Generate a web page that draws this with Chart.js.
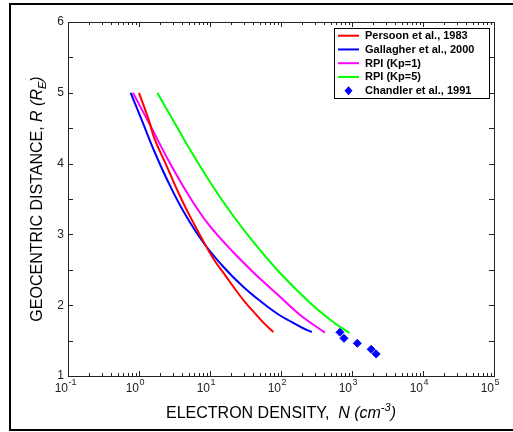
<!DOCTYPE html>
<html>
<head>
<meta charset="utf-8">
<script src="https://cdn.jsdelivr.net/npm/chart.js@4/dist/chart.umd.min.js"></script>
<style>
  body { margin: 0; background: #fff; }
  #wrap { width: 513px; height: 432px; }
</style>
</head>
<body>
<div id="wrap"><canvas id="densityChart" width="513" height="432"></canvas></div>
<script>
// Series: R in Earth radii, N in cm^-3
const persoonR = [5.0, 4.6, 4.36, 4.0, 3.7, 3.49, 3.3, 3.0, 2.66, 2.4, 2.19, 2.03, 1.885, 1.75, 1.62];
const persoonN = [1.0, 1.39, 1.64, 2.37, 3.2, 4.0, 4.95, 7.15, 11.1, 17, 24, 32, 43, 57, 78];

const gallagherR = [5.0, 4.588, 4.164, 3.74, 3.316, 2.893, 2.54, 2.257, 2.045, 1.876, 1.763, 1.678, 1.621];
const gallagherN = [0.764, 1.12, 1.66, 2.58, 4.28, 7.96, 15.5, 29.6, 53.1, 89.9, 140, 202, 272];

const rpiKp1R = [5.0, 4.545, 4.051, 3.556, 3.133, 2.737, 2.427, 2.12, 1.862, 1.612];
const rpiKp1N = [0.822, 1.43, 2.58, 4.98, 9.66, 21.8, 44.6, 96.8, 186, 415];

const rpiKp5R = [5.0, 4.588, 4.164, 3.74, 3.316, 2.893, 2.469, 2.045, 1.763, 1.607];
const rpiKp5N = [1.81, 3.12, 5.48, 10.0, 19.4, 40.7, 94, 249, 542, 925];

const chandlerR = [1.617, 1.532, 1.462, 1.377, 1.311];
const chandlerN = [676, 771, 1189, 1862, 2190];

const seriesLabels = ['Persoon et al., 1983', 'Gallagher et al., 2000', 'RPI (Kp=1)', 'RPI (Kp=5)', 'Chandler et al., 1991'];
const seriesColors = ['#ff0000', '#0000ff', '#ff00ff', '#00ff00', '#0000ff'];

// Axis ticks
const xTickValues = [0.1, 1, 10, 100, 1000, 10000, 100000];
const xTickExps = ['-1', '0', '1', '2', '3', '4', '5'];
const yTickValues = [1, 2, 3, 4, 5, 6];

const FONT = '"Liberation Sans", Arial, sans-serif';
const TICKFONT = '"Liberation Sans Narrow", "Liberation Sans", Arial, sans-serif';

function pts(ns, rs) {
    return ns.map((n, i) => ({ x: n, y: rs[i] }));
}

function lineSet(i, ns, rs) {
    return {
        label: seriesLabels[i],
        data: pts(ns, rs),
        borderColor: seriesColors[i],
        backgroundColor: seriesColors[i],
        borderWidth: 2,
        showLine: true,
        pointRadius: 0,
        tension: 0.4
    };
}

// draws a run of text pieces (different fonts / offsets) from x
function drawRuns(ctx, runs, x, y) {
    let cx = x;
    runs.forEach(r => {
        ctx.font = r.font;
        ctx.fillText(r.t, cx, y + (r.dy || 0));
        cx += ctx.measureText(r.t).width;
    });
    return cx;
}
function runsWidth(ctx, runs) {
    let w = 0;
    runs.forEach(r => { ctx.font = r.font; w += ctx.measureText(r.t).width; });
    return w;
}

const framePlugin = {
    id: 'framePlugin',
    beforeDraw(chart) {
        const ctx = chart.ctx;
        ctx.save();
        ctx.fillStyle = '#fff';
        ctx.fillRect(0, 0, chart.width, chart.height);
        ctx.restore();
    },
    afterDraw(chart) {
        const ctx = chart.ctx;
        const a = chart.chartArea;
        const xs = chart.scales.x, ys = chart.scales.y;
        ctx.save();

        // outer border
        ctx.strokeStyle = '#000';
        ctx.lineWidth = 2;
        ctx.strokeRect(10, 4, 520, 426);

        // plot box
        ctx.strokeStyle = '#222';
        ctx.lineWidth = 1;
        ctx.strokeRect(Math.round(a.left) + 0.5, Math.round(a.top) + 0.5, Math.round(a.right - a.left), Math.round(a.bottom - a.top));

        // x ticks (inward, bottom and top)
        ctx.beginPath();
        for (let d = -1; d <= 5; d++) {
            for (let k = 1; k <= 9; k++) {
                const v = k * Math.pow(10, d);
                if (v > 100000) break;
                const px = Math.round(xs.getPixelForValue(v)) + 0.5;
                const len = k === 1 ? 5 : 3;
                ctx.moveTo(px, a.bottom);
                ctx.lineTo(px, a.bottom - len);
                ctx.moveTo(px, a.top);
                ctx.lineTo(px, a.top + len);
            }
        }
        // y ticks (inward, left and right)
        for (let v = 1; v <= 6; v += 0.5) {
            const py = Math.round(ys.getPixelForValue(v)) + 0.5;
            ctx.moveTo(a.left, py);
            ctx.lineTo(a.left + 5, py);
            ctx.moveTo(a.right, py);
            ctx.lineTo(a.right - 5, py);
        }
        ctx.stroke();

        // tick labels
        ctx.fillStyle = '#222';
        ctx.textBaseline = 'middle';
        ctx.textAlign = 'right';
        ctx.font = '12px ' + TICKFONT;
        yTickValues.forEach(v => {
            ctx.fillText(String(v), a.left - 4, ys.getPixelForValue(v));
        });
        xTickValues.forEach((v, i) => {
            const px = xs.getPixelForValue(v);
            ctx.textAlign = 'right';
            ctx.font = '12px ' + TICKFONT;
            ctx.fillText('10', px, a.bottom + 13);
            ctx.textAlign = 'left';
            ctx.font = '9px ' + TICKFONT;
            ctx.fillText(xTickExps[i], px + 0.5, a.bottom + 7);
        });

        // x axis title
        ctx.fillStyle = '#000';
        ctx.textAlign = 'left';
        ctx.textBaseline = 'alphabetic';
        const xRuns = [
            { t: 'ELECTRON DENSITY,  ', font: '16px ' + FONT },
            { t: 'N (cm', font: 'italic 16px ' + FONT },
            { t: '-3', font: 'italic 11px ' + FONT, dy: -7 },
            { t: ')', font: 'italic 16px ' + FONT }
        ];
        const cxMid = (a.left + a.right) / 2;
        drawRuns(ctx, xRuns, cxMid - runsWidth(ctx, xRuns) / 2, 418);

        // y axis title
        const yRuns = [
            { t: 'GEOCENTRIC DISTANCE, ', font: '16px ' + FONT },
            { t: 'R (R', font: 'italic 16px ' + FONT },
            { t: 'E', font: 'italic 11px ' + FONT, dy: 4 },
            { t: ')', font: 'italic 16px ' + FONT }
        ];
        ctx.translate(42, (a.top + a.bottom) / 2);
        ctx.rotate(-Math.PI / 2);
        drawRuns(ctx, yRuns, -runsWidth(ctx, yRuns) / 2, 0);
        ctx.setTransform(1, 0, 0, 1, 0, 0);

        // legend
        ctx.fillStyle = '#fff';
        ctx.fillRect(334, 28, 155, 70);
        ctx.strokeStyle = '#000';
        ctx.lineWidth = 1;
        ctx.strokeRect(334.5, 28.5, 155, 70);
        ctx.font = 'bold 11px ' + FONT;
        ctx.textBaseline = 'middle';
        chart.data.datasets.forEach((ds, i) => {
            const ry = 35.7 + i * 13.75;
            if (ds.showLine) {
                ctx.strokeStyle = ds.borderColor;
                ctx.lineWidth = 2;
                ctx.beginPath();
                ctx.moveTo(338, ry);
                ctx.lineTo(359, ry);
                ctx.stroke();
            } else {
                ctx.fillStyle = ds.backgroundColor;
                ctx.beginPath();
                ctx.moveTo(348.5, ry - 4.5);
                ctx.lineTo(352.5, ry);
                ctx.lineTo(348.5, ry + 4.5);
                ctx.lineTo(344.5, ry);
                ctx.closePath();
                ctx.fill();
            }
            ctx.fillStyle = '#000';
            ctx.fillText(ds.label, 365, ry + 0.5);
        });

        ctx.restore();
    }
};

const ctx = document.getElementById('densityChart').getContext('2d');
const densityChart = new Chart(ctx, {
    type: 'scatter',
    data: {
        datasets: [
            lineSet(0, persoonN, persoonR),
            lineSet(1, gallagherN, gallagherR),
            lineSet(2, rpiKp1N, rpiKp1R),
            lineSet(3, rpiKp5N, rpiKp5R),
            {
                label: seriesLabels[4],
                data: pts(chandlerN, chandlerR),
                showLine: false,
                pointStyle: 'rectRot',
                pointRadius: 4,
                borderWidth: 1,
                borderColor: seriesColors[4],
                backgroundColor: seriesColors[4]
            }
        ]
    },
    options: {
        responsive: false,
        animation: false,
        layout: { padding: { left: 68, right: 19, top: 22, bottom: 56 } },
        plugins: {
            legend: { display: false },
            tooltip: { enabled: false }
        },
        scales: {
            x: { type: 'logarithmic', min: 0.1, max: 100000, display: false },
            y: { type: 'linear', min: 1, max: 6, display: false }
        }
    },
    plugins: [framePlugin]
});
</script>
</body>
</html>
